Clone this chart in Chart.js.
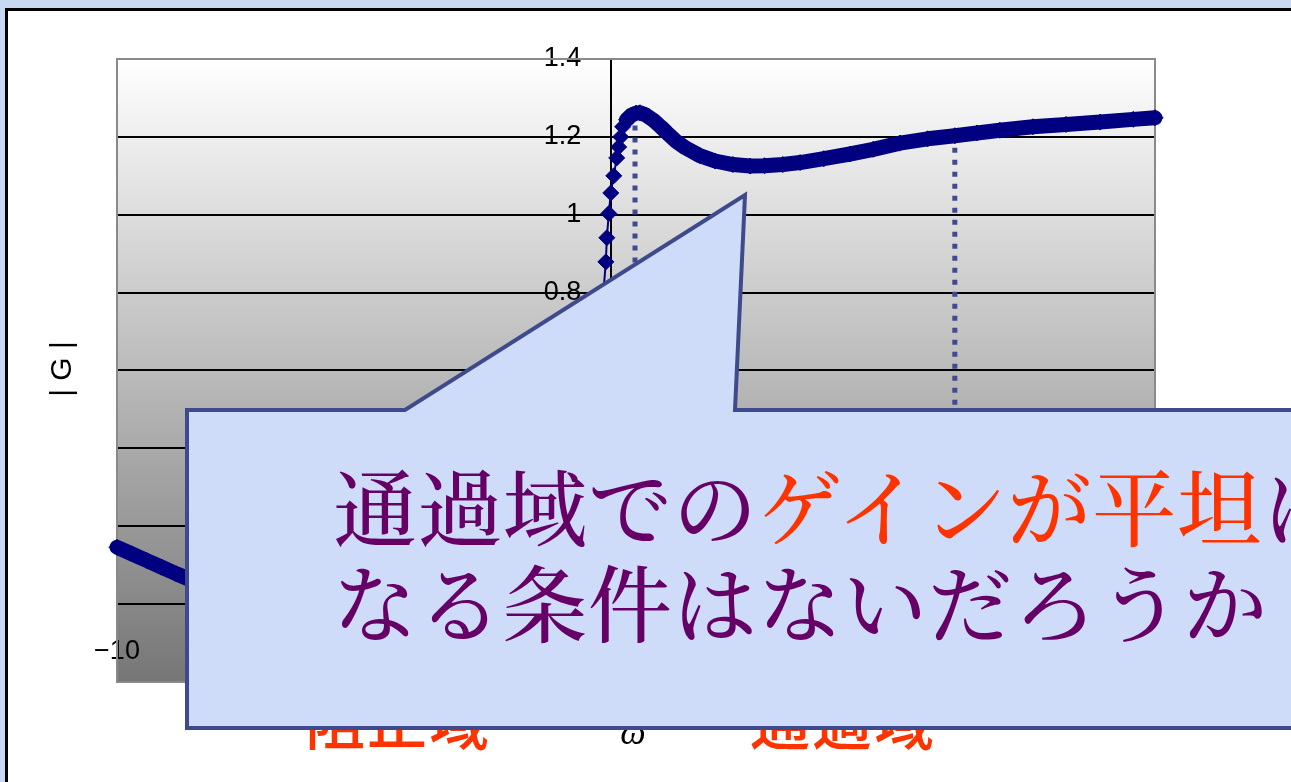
<!DOCTYPE html>
<html>
<head>
<meta charset="utf-8">
<script src="https://cdn.jsdelivr.net/npm/chart.js@4.4.1/dist/chart.umd.min.js"></script>
<style>
  html, body { margin: 0; padding: 0; width: 1291px; height: 782px; overflow: hidden; background: #c9d8f2; }
  #frame { position: absolute; left: 5px; top: 8px; width: 1400px; height: 900px; border: 3px solid #000; background: #fff; }
  #wrap { position: absolute; left: 0; top: 0; width: 1291px; height: 782px; }
  #overlay { position: absolute; left: 0; top: 0; pointer-events: none; }
</style>
</head>
<body>
<div id="frame"></div>
<div id="wrap"><canvas id="myChart" width="1291" height="782"></canvas></div>
<svg id="overlay" width="1291" height="782" xmlns="http://www.w3.org/2000/svg">
  <!-- titres d'axes et libellés sous la bulle -->
  <text x="60" y="369" transform="rotate(-90 60 369)" text-anchor="middle" dominant-baseline="central"
        font-family="Liberation Sans, Arial, sans-serif" font-size="30" fill="#000">| G |</text>
  <text x="305" y="745" font-family="Noto Sans CJK JP, sans-serif" font-size="60" font-weight="500" fill="#ff3300" letter-spacing="2">阻止域</text>
  <text x="633" y="744" text-anchor="middle" font-family="Liberation Serif, serif" font-style="italic" font-size="36" fill="#000">ω</text>
  <text x="750" y="745" font-family="Noto Sans CJK JP, sans-serif" font-size="60" font-weight="500" fill="#ff3300" letter-spacing="2">通過域</text>
  <!-- bulle -->
  <polygon points="187,410 405,410 745,195 735,410 1320,410 1320,728 187,728"
           fill="#cfdcf9" stroke="#3f4a8c" stroke-width="4" stroke-linejoin="miter"/>
  <text x="333" y="540" font-family="Noto Serif CJK JP, Noto Sans CJK JP, serif" font-size="84" font-weight="500" fill="#660066" letter-spacing="1">通過域での<tspan fill="#ff3300">ゲインが平坦</tspan>に</text>
  <text x="333" y="636" font-family="Noto Serif CJK JP, Noto Sans CJK JP, serif" font-size="84" font-weight="500" fill="#660066" letter-spacing="1">なる条件はないだろうか</text>
</svg>
<script>
// données
const omega = [-10, -9.7, -9.4, -9.1, -8.8, -8.5, -8, -7.5, -7, -6.5, -6, -5, -4, -3, -2, -1.5, -1, -0.6, -0.4, -0.25, -0.16,
  -0.11, -0.09, -0.05, -0.01, 0.05, 0.11, 0.15, 0.19, 0.23, 0.31, 0.41, 0.5, 0.58, 0.7, 0.85, 1.0, 1.13, 1.3, 1.5, 1.79,
  2.1, 2.46, 2.81, 3.1, 3.47, 3.82, 4.3, 4.83, 5.3, 5.84, 6.4, 6.95, 7.4, 7.86, 8.53, 9.2, 9.89, 10.56, 11];
const gain = [0.146, 0.129, 0.112, 0.095, 0.078, 0.062, 0.04, 0.022, 0.01, 0.02, 0.035, 0.065, 0.1, 0.14, 0.2, 0.25, 0.34, 0.46, 0.57, 0.7, 0.8,
  0.879, 0.941, 1.003, 1.056, 1.1, 1.146, 1.174, 1.2, 1.226, 1.244, 1.256, 1.261, 1.262, 1.256, 1.243, 1.226, 1.21, 1.19, 1.172, 1.152,
  1.138, 1.129, 1.125, 1.126, 1.129, 1.134, 1.144, 1.156, 1.168, 1.184, 1.195, 1.203, 1.21, 1.217, 1.226, 1.232, 1.238, 1.245, 1.249];

// lignes pointillées verticales
const dropX = [0.48, 6.95];
const dropTop = [1.26, 1.203];

// graduations
const xTicks = [-10, -5, 0, 5, 10];
const xLabels = ['\u221210', '\u22125', '0', '5', '10'];
const yTicks = [-0.2, 0, 0.2, 0.4, 0.6, 0.8, 1, 1.2, 1.4];
const yLabels = ['\u22120.2', '0', '0.2', '0.4', '0.6', '0.8', '1', '1.2', '1.4'];

// fond dégradé + cadre de la zone de tracé
const plotBackground = {
    id: 'plotBackground',
    beforeDraw(chart) {
        const {ctx, chartArea: a} = chart;
        const g = ctx.createLinearGradient(0, a.top, 0, a.bottom);
        g.addColorStop(0, '#ffffff');
        g.addColorStop(1, '#767676');
        ctx.save();
        ctx.fillStyle = g;
        ctx.fillRect(a.left, a.top, a.width, a.height);
        ctx.restore();
    },
    beforeDatasetsDraw(chart) {
        const {ctx, chartArea: a} = chart;
        ctx.save();
        ctx.strokeStyle = '#8a8a8a';
        ctx.lineWidth = 2;
        ctx.strokeRect(a.left, a.top, a.width, a.height);
        ctx.restore();
    }
};

let datasets = [{
    data: omega.map((x, i) => ({x: x, y: gain[i]})),
    showLine: true,
    borderColor: '#000080',
    backgroundColor: '#000080',
    borderWidth: 15,
    borderJoinStyle: 'round',
    borderCapStyle: 'round',
    pointStyle: 'rectRot',
    pointRadius: 8,
    pointBorderWidth: 1,
    pointBorderColor: '#000080',
    clip: false,
    segment: {
        borderWidth: c => (c.p0.parsed.x >= -0.3 && c.p1.parsed.x <= 0.31) ? 2 : 15
    }
}];

dropX.forEach((x, i) => {
    datasets.push({
        data: [{x: x, y: dropTop[i]}, {x: x, y: 0}],
        showLine: true,
        borderColor: '#404a90',
        borderWidth: 5,
        borderDash: [5, 7],
        pointRadius: 0
    });
});

const tickFont = {family: 'Liberation Sans', size: 27};

let ctx = document.getElementById('myChart').getContext('2d');
new Chart(ctx, {
    type: 'scatter',
    data: {datasets: datasets},
    plugins: [plotBackground],
    options: {
        responsive: false,
        animation: false,
        layout: {padding: {left: 117, top: 59, right: 136, bottom: 100}},
        plugins: {legend: {display: false}, tooltip: {enabled: false}},
        scales: {
            x: {
                type: 'linear', min: -10, max: 11, position: {y: 0},
                afterBuildTicks: s => { s.ticks = xTicks.map(v => ({value: v})); },
                grid: {display: false},
                border: {display: true, color: '#000', width: 2},
                ticks: {autoSkip: false, maxRotation: 0, padding: 23, color: '#000', font: tickFont,
                    callback: (v, i) => xLabels[i]}
            },
            y: {
                type: 'linear', min: -0.2, max: 1.4, position: {x: 0},
                afterBuildTicks: s => { s.ticks = yTicks.map(v => ({value: v})); },
                grid: {
                    color: c => (c.tick && (c.tick.value > 1.39 || c.tick.value < -0.19)) ? '#8a8a8a' : '#000',
                    lineWidth: 2, drawTicks: false
                },
                border: {display: true, color: '#000', width: 2},
                ticks: {padding: 0, color: '#000', font: tickFont,
                    callback: (v, i) => yLabels[i] + '    '}
            }
        }
    }
});
</script>
</body>
</html>
